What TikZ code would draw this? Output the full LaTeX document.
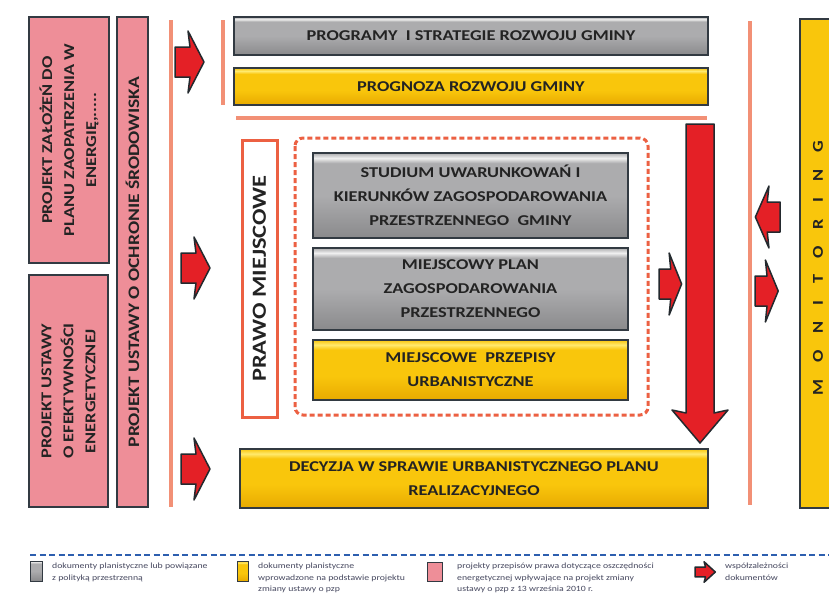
\documentclass[tikz,border=0pt]{standalone}
\usepackage{fontspec}
\setmainfont{Carlito}[FakeStretch=1.22]
\usetikzlibrary{positioning}
\definecolor{kslate}{RGB}{50,58,66}
\definecolor{ktext}{RGB}{35,35,35}
\definecolor{kgraylo}{RGB}{138,138,140}
\definecolor{kgraymid}{RGB}{172,172,174}
\definecolor{kgrayhi}{RGB}{240,240,240}
\definecolor{kyellowlo}{RGB}{232,170,0}
\definecolor{kyellowmid}{RGB}{249,198,12}
\definecolor{kyellowhi}{RGB}{255,234,110}
\definecolor{kpink}{RGB}{238,142,152}
\definecolor{korange}{RGB}{240,125,95}
\definecolor{kframe}{RGB}{236,96,66}
\definecolor{kred}{RGB}{228,32,38}
\definecolor{kblue}{RGB}{45,95,175}
\definecolor{klegend}{RGB}{70,72,95}

\pgfdeclareverticalshading{glossgray}{100bp}{color(0bp)=(kgraylo); color(25bp)=(kgraylo); color(50bp)=(kgraymid); color(69bp)=(kgraymid); color(72bp)=(kgrayhi); color(75bp)=(kgraymid); color(100bp)=(kgraymid)}
\pgfdeclareverticalshading{glossyellow}{100bp}{color(0bp)=(kyellowlo); color(25bp)=(kyellowlo); color(45bp)=(kyellowmid); color(67bp)=(kyellowmid); color(71bp)=(kyellowhi); color(75bp)=(kyellowmid); color(100bp)=(kyellowmid)}

\tikzset{
    docbox/.style={draw=kslate, line width=2pt, text=ktext, align=center, inner sep=0pt,
        font=\bfseries\fontsize{15}{24}\selectfont},
    graybox/.style={docbox, shade, shading=glossgray},
    yellowbox/.style={docbox, shade, shading=glossyellow},
    pinkbox/.style={docbox, fill=kpink, line width=1.5pt, rotate=90,
        font=\bfseries\fontsize{15}{22}\selectfont},
    sepline/.style={korange, line width=4pt, opacity=.85},
    arrowline/.style={draw=kslate!70!black, line width=1.5pt, fill=kred, line join=round},
    legendtext/.style={font=\fontsize{8}{11.5}\selectfont, text=klegend, align=left,
        anchor=north west, inner sep=0pt},
    pics/linkarrow/.style={code={
        \draw[arrowline] (0,-15) -- (15,-15) -- (13,-31) -- (29,0) -- (13,31) -- (15,15) -- (0,15) -- cycle;
    }}
}

\begin{document}
\begin{tikzpicture}[x=1pt, y=-1pt]
    \clip (0,0) rectangle (829,603);
    \fill[white] (0,0) rectangle (829,603);

    % separator lines
    \draw[sepline] (170.5,20) -- (170.5,507);
    \draw[sepline] (222.5,20) -- (222.5,105);
    \draw[sepline] (236,118) -- (707,118);
    \draw[sepline] (750,21) -- (750,505);

    % energy and environment projects
    \node[pinkbox, minimum width=246, minimum height=80] (zalozenia) at (69,140)
        {PROJEKT ZAŁOŻEŃ DO\\PLANU ZAOPATRZENIA W\\ENERGIĘ,.....};
    \node[pinkbox, minimum width=232, minimum height=79] (efektywnosc) at (68.5,391)
        {PROJEKT USTAWY\\O EFEKTYWNOŚCI\\ENERGETYCZNEJ};
    \node[pinkbox, minimum width=490, minimum height=31, font=\bfseries\fontsize{16}{20}\selectfont] (ochrona) at (132.5,262)
        {PROJEKT USTAWY O OCHRONIE ŚRODOWISKA};

    % strategy level
    \node[graybox, minimum width=474, minimum height=38] (programy) at (471,36)
        {PROGRAMY~ I STRATEGIE ROZWOJU GMINY};
    \node[yellowbox, minimum width=474, minimum height=37] (prognoza) at (471,86.5)
        {PROGNOZA ROZWOJU GMINY};

    % local law
    \node[docbox, draw=kframe, line width=3pt, fill=white, rotate=90, minimum width=277, minimum height=35,
        font=\bfseries\fontsize{20}{20}\selectfont] (prawo) at (259.5,278.5) {PRAWO MIEJSCOWE};
    \draw[kframe, line width=3pt, dash pattern=on 5pt off 3pt, rounded corners=8pt] (295,138) rectangle (648,415);
    \node[graybox, minimum width=315, minimum height=85] (studium) at (470.5,195.5)
        {STUDIUM UWARUNKOWAŃ I\\KIERUNKÓW ZAGOSPODAROWANIA\\PRZESTRZENNEGO~ GMINY};
    \node[graybox, minimum width=315, minimum height=82] (plan) at (470.5,289)
        {MIEJSCOWY PLAN\\ZAGOSPODAROWANIA\\PRZESTRZENNEGO};
    \node[yellowbox, minimum width=315, minimum height=60] (przepisy) at (470.5,370)
        {MIEJSCOWE~ PRZEPISY\\URBANISTYCZNE};

    % decision
    \node[yellowbox, minimum width=468, minimum height=59] (decyzja) at (474,478.5)
        {DECYZJA W SPRAWIE URBANISTYCZNEGO PLANU\\REALIZACYJNEGO};

    % monitoring
    \node[docbox, fill=kyellowmid, minimum width=46, minimum height=489, anchor=north west] (monitoring) at (799,18) {};
    \node[rotate=90, text=ktext, inner sep=0pt, font=\bfseries\fontsize{15}{15}\selectfont] (monitoringtext) at (818,268)
        {\spaceskip=16.5pt\relax M O N I T O R I N G};

    % dependencies
    \pic at (175,62) {linkarrow};
    \pic at (181,268) {linkarrow};
    \pic at (181,469) {linkarrow};
    \pic[xscale=0.78] at (659,284) {linkarrow};
    \pic[rotate=180, xscale=0.85] at (780,217) {linkarrow};
    \pic[xscale=0.8] at (755,291) {linkarrow};
    \draw[arrowline] (686,124) -- (714,124) -- (714,413) -- (728,410) -- (700,443) -- (672,410) -- (686,413) -- cycle;

    % legend
    \draw[kblue, line width=2.5pt, dash pattern=on 6pt off 3.5pt] (30,555) -- (829,555);
    \node[graybox, line width=1pt, minimum width=12, minimum height=20] (lgray) at (36.5,571) {};
    \node[legendtext] (lgraytext) at (52,563)
        {dokumenty planistyczne lub powiązane\\z polityką przestrzenną};
    \node[yellowbox, line width=1pt, minimum width=11, minimum height=20] (lyellow) at (242.5,571) {};
    \node[legendtext] (lyellowtext) at (258,563)
        {dokumenty planistyczne\\wprowadzone na podstawie projektu\\zmiany ustawy o pzp};
    \node[docbox, fill=kpink, line width=1pt, minimum width=15, minimum height=19] (lpink) at (435,571.5) {};
    \node[legendtext] (lpinktext) at (457,563)
        {projekty przepisów prawa dotyczące oszczędności\\energetycznej wpływające na projekt zmiany\\ustawy o pzp z 13 września 2010 r.};
    \pic[xscale=0.7, yscale=0.33] at (695,572) {linkarrow};
    \node[legendtext] (larrowtext) at (725,563) {współzależności\\dokumentów};
\end{tikzpicture}
\end{document}
